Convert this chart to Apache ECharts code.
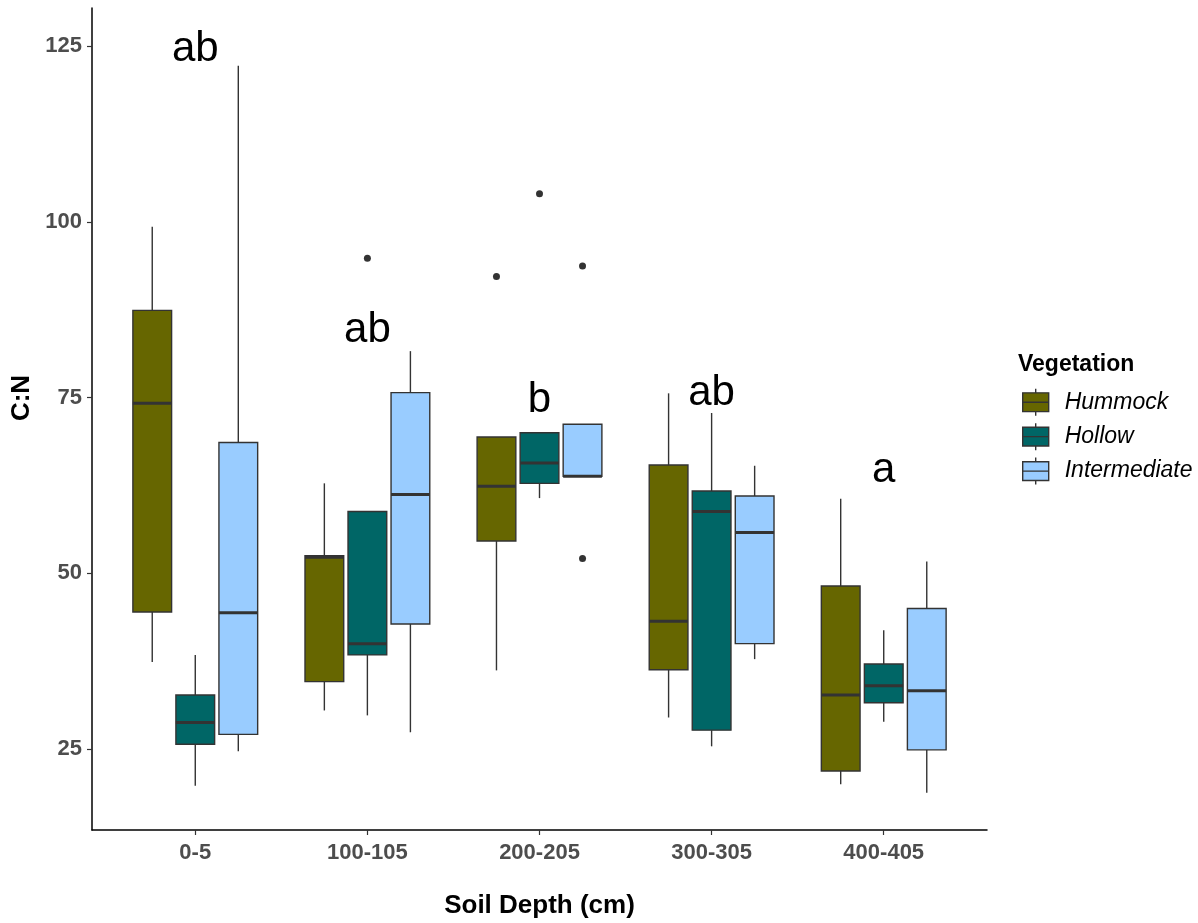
<!DOCTYPE html>
<html>
<head>
<meta charset="utf-8">
<title>C:N by soil depth and vegetation</title>
<script src="https://cdn.jsdelivr.net/npm/echarts@6/dist/echarts.min.js"></script>
<style>
  html, body { margin: 0; padding: 0; background: #ffffff; }
  #chart { width: 1198px; height: 923px; }
</style>
</head>
<body>
<div id="chart"></div>
<script>
// Depth classes along the x axis
const categories = ['0-5', '100-105', '200-205', '300-305', '400-405'];
const groups = ['Hummock', 'Hollow', 'Intermediate'];
const groupColors = ['#666600', '#006666', '#99CCFF'];

// Box statistics per depth: [lower whisker, Q1, median, Q3, upper whisker]
const hummock = [
  [37.4, 44.5, 74.2, 87.4, 99.3],
  [30.5, 34.6, 52.3, 52.5, 62.8],
  [36.2, 54.6, 62.4, 69.4, 69.4],
  [29.5, 36.3, 43.2, 65.4, 75.6],
  [20.0, 21.9, 32.7, 48.2, 60.6]
];
const hollow = [
  [19.8, 25.7, 28.8, 32.7, 38.4],
  [29.8, 38.4, 40.0, 58.8, 58.8],
  [60.7, 62.8, 65.7, 70.0, 70.0],
  [25.4, 27.7, 58.8, 61.7, 72.8],
  [28.9, 31.6, 34.0, 37.1, 41.9]
];
const intermediate = [
  [24.7, 27.1, 44.4, 68.6, 122.2],
  [27.4, 42.8, 61.2, 75.7, 81.6],
  [63.8, 63.8, 63.8, 71.2, 71.2],
  [37.8, 40.0, 55.8, 61.0, 65.3],
  [18.8, 24.9, 33.3, 45.0, 51.7]
];

// Outliers: [depth index, C:N]
const hummockOutliers = [[2, 92.2]];
const hollowOutliers = [[1, 94.8], [2, 104.0]];
const intermediateOutliers = [[2, 93.7], [2, 52.1]];

// Significance letters per depth
const letters = ['ab', 'ab', 'b', 'ab', 'a'];
const letterY = [125, 85, 75, 76, 65];

const yTicks = [25, 50, 75, 100, 125];

const FONT = '"Liberation Sans", Arial, sans-serif';
const DODGE = 0.25;      // distance between neighbouring boxes (category units)
const BOX_W = 0.225;     // width of one box (category units)
const EDGE = '#333333';

const boxData = [hummock, hollow, intermediate];
const outlierData = [hummockOutliers, hollowOutliers, intermediateOutliers];

function makeBoxRenderer(offset, color) {
  return function (params, api) {
    const x = api.value(0) + offset;
    const lo = api.value(1), q1 = api.value(2), med = api.value(3),
          q3 = api.value(4), hi = api.value(5);
    const pTL = api.coord([x - BOX_W / 2, q3]);
    const pBR = api.coord([x + BOX_W / 2, q1]);
    const cx = api.coord([x, 0])[0];
    const yHi = api.coord([x, hi])[1];
    const yLo = api.coord([x, lo])[1];
    const yMed = api.coord([x, med])[1];
    const children = [];
    if (hi > q3) {
      children.push({ type: 'line', shape: { x1: cx, y1: yHi, x2: cx, y2: pTL[1] },
        style: { stroke: EDGE, lineWidth: 1.4 } });
    }
    if (lo < q1) {
      children.push({ type: 'line', shape: { x1: cx, y1: pBR[1], x2: cx, y2: yLo },
        style: { stroke: EDGE, lineWidth: 1.4 } });
    }
    children.push({ type: 'rect',
      shape: { x: pTL[0], y: pTL[1], width: pBR[0] - pTL[0], height: pBR[1] - pTL[1] },
      style: { fill: color, stroke: EDGE, lineWidth: 1.4 } });
    children.push({ type: 'line', shape: { x1: pTL[0], y1: yMed, x2: pBR[0], y2: yMed },
      style: { stroke: EDGE, lineWidth: 3 } });
    return { type: 'group', children: children };
  };
}

const series = [];
groups.forEach(function (name, gi) {
  const offset = (gi - 1) * DODGE;
  series.push({
    name: name,
    type: 'custom',
    itemStyle: { color: groupColors[gi] },
    renderItem: makeBoxRenderer(offset, groupColors[gi]),
    encode: { x: 0, y: [1, 2, 3, 4, 5] },
    data: boxData[gi].map(function (s, ci) { return [ci].concat(s); }),
    z: 2
  });
});
groups.forEach(function (name, gi) {
  const offset = (gi - 1) * DODGE;
  series.push({
    name: name,
    type: 'scatter',
    symbol: 'circle',
    symbolSize: 7,
    itemStyle: { color: EDGE, opacity: 1 },
    data: outlierData[gi].map(function (o) { return [o[0] + offset, o[1]]; }),
    z: 3
  });
});
series.push({
  name: 'letters',
  type: 'custom',
  renderItem: function (params, api) {
    const p = api.coord([api.value(0), api.value(1)]);
    return {
      type: 'text',
      x: p[0], y: p[1] + 3,
      style: {
        text: letters[params.dataIndex],
        fill: '#000000',
        font: '42px ' + FONT,
        align: 'center',
        verticalAlign: 'middle'
      }
    };
  },
  encode: { x: 0, y: 1 },
  data: letterY.map(function (v, i) { return [i, v]; }),
  z: 4
});

// Box-and-whisker glyph for legend keys
const keyIcon = 'path://M0,4 L25,4 L25,22 L0,22 Z M0,13 L25,13 M12.5,0 L12.5,4 M12.5,22 L12.5,26';

const chart = echarts.init(document.getElementById('chart'), null, { renderer: 'canvas' });
chart.setOption({
  animation: false,
  backgroundColor: '#ffffff',
  title: {
    text: 'Vegetation',
    left: 1018, top: 353, padding: 0,
    textStyle: { fontFamily: FONT, fontSize: 23, fontWeight: 'bold', color: '#000000' }
  },
  legend: {
    data: groups.map(function (g, gi) {
      return { name: g, icon: keyIcon, itemStyle: { color: groupColors[gi] } };
    }),
    orient: 'vertical',
    left: 1022, top: 388, padding: 0,
    itemWidth: 26, itemHeight: 28, itemGap: 6,
    selectedMode: false,
    itemStyle: { borderColor: EDGE, borderWidth: 1.4 },
    textStyle: { fontFamily: FONT, fontSize: 23, fontStyle: 'italic', color: '#000000', padding: [0, 0, 0, 11] }
  },
  grid: { left: 92, right: 211, top: 8, bottom: 93, containLabel: false, outerBoundsMode: 'none' },
  xAxis: {
    type: 'value',
    min: -0.6, max: 4.6,
    name: 'Soil Depth (cm)',
    nameLocation: 'middle',
    nameGap: 63,
    nameTextStyle: { fontFamily: FONT, fontSize: 26, fontWeight: 'bold', color: '#000000' },
    axisLine: { show: true, onZero: false, lineStyle: { color: '#000000', width: 1.5 } },
    axisTick: { show: true, length: 5, customValues: [0, 1, 2, 3, 4], lineStyle: { color: '#333333', width: 1.2 } },
    axisLabel: {
      customValues: [0, 1, 2, 3, 4],
      formatter: function (v) { return categories[Math.round(v)]; },
      margin: 12,
      fontFamily: FONT, fontSize: 22, fontWeight: 'bold', color: '#4D4D4D'
    },
    splitLine: { show: false }
  },
  yAxis: {
    type: 'value',
    min: 13.5, max: 130.4,
    name: 'C:N',
    nameLocation: 'middle',
    nameGap: 51,
    nameTextStyle: { fontFamily: FONT, fontSize: 26, fontWeight: 'bold', color: '#000000', padding: [0, 0, 0, 42] },
    axisLine: { show: true, onZero: false, lineStyle: { color: '#000000', width: 1.5 } },
    axisTick: { show: true, length: 5, customValues: yTicks, lineStyle: { color: '#333333', width: 1.2 } },
    axisLabel: {
      customValues: yTicks,
      margin: 10,
      fontFamily: FONT, fontSize: 22, fontWeight: 'bold', color: '#4D4D4D'
    },
    splitLine: { show: false }
  },
  series: series
});
</script>
</body>
</html>
